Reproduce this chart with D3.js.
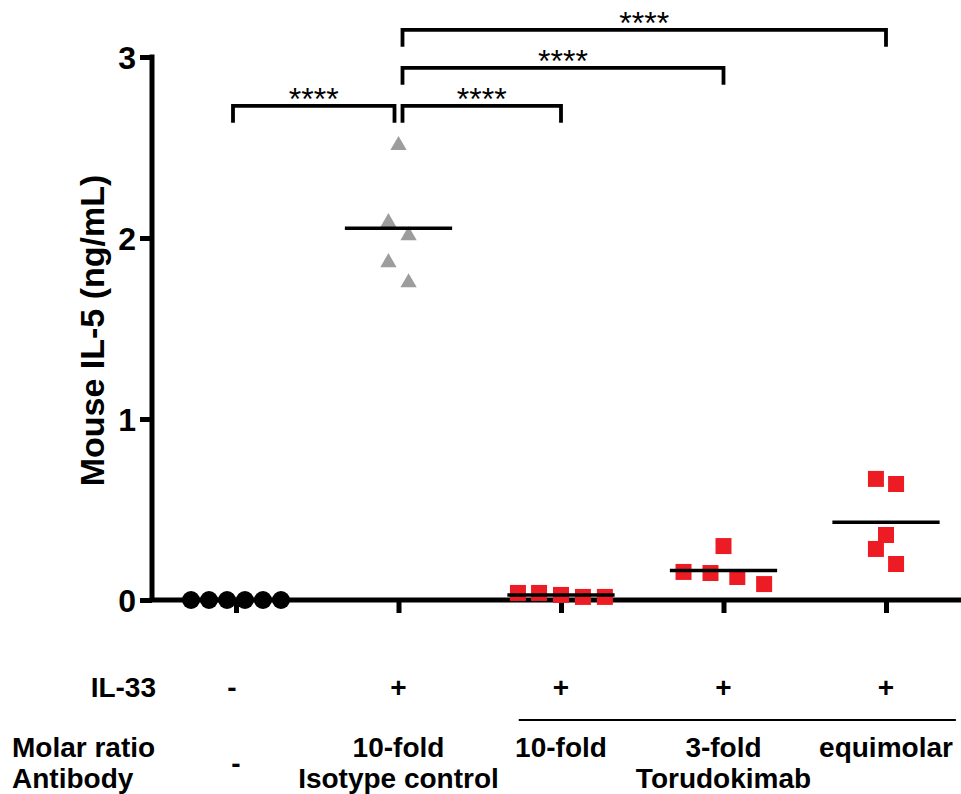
<!DOCTYPE html>
<html><head><meta charset="utf-8">
<script src="https://cdn.jsdelivr.net/npm/d3@7/dist/d3.min.js"></script>
<style>
html,body{margin:0;padding:0;background:#fff;}
svg{display:block;}
text{font-family:"Liberation Sans",Arial,sans-serif;font-weight:bold;fill:#000;}
</style></head>
<body>
<svg id="chart" width="961" height="794"></svg>
<script>
// ---- data ----
const groups = ["none", "isotype", "toru10", "toru3", "toru1"];
const yTicks = [0, 1, 2, 3];
const yLabel = "Mouse IL-5 (ng/mL)";

const noneValues    = [0, 0, 0, 0, 0, 0];
const isotypeValues = [2.52, 2.094, 2.022, 1.873, 1.762];
const toru10Values  = [0.039, 0.039, 0.028, 0.017, 0.017];
const toru3Values   = [0.155, 0.149, 0.298, 0.127, 0.088];
const toru1Values   = [0.669, 0.641, 0.359, 0.282, 0.199];

// horizontal scatter of points within a group, as a fraction of the group spacing
const noneJitter    = [-0.277, -0.166, -0.055, 0.055, 0.166, 0.277];
const isotypeJitter = [0, -0.062, 0.062, -0.062, 0.062];
const toru10Jitter  = [-0.265, -0.135, 0, 0.135, 0.27];
const toru3Jitter   = [-0.246, -0.08, 0, 0.085, 0.25];
const toru1Jitter   = [-0.062, 0.062, 0, -0.062, 0.062];

const il33Row      = ["-", "+", "+", "+", "+"];
const molarRow     = ["", "10-fold", "10-fold", "3-fold", "equimolar"];
const antibodyRow  = ["-", "Isotype control", "", "Torudokimab", ""];
const rowTitles    = ["IL-33", "Molar ratio", "Antibody"];

// significance brackets: [from group, to group, height in ng/mL, label]
const compFrom   = [0, 1, 1, 1];
const compTo     = [1, 2, 3, 4];
const compLevel  = [2.73, 2.73, 2.94, 3.15];
const compLabel  = ["****", "****", "****", "****"];

// ---- layout ----
const svg = d3.select("#chart");
const x = d3.scalePoint().domain(groups).range([236, 886]);
const y = d3.scaleLinear().domain([0, 3]).range([600, 57]);
const step = x.step();

const series = [
  {g: "none",    vals: noneValues,    jit: noneJitter,    shape: "circle",   color: "#000000"},
  {g: "isotype", vals: isotypeValues, jit: isotypeJitter, shape: "triangle", color: "#9d9d9d"},
  {g: "toru10",  vals: toru10Values,  jit: toru10Jitter,  shape: "square",   color: "#ed1c24"},
  {g: "toru3",   vals: toru3Values,   jit: toru3Jitter,   shape: "square",   color: "#ed1c24"},
  {g: "toru1",   vals: toru1Values,   jit: toru1Jitter,   shape: "square",   color: "#ed1c24"}
];
const symType = {circle: d3.symbolCircle, triangle: d3.symbolTriangle, square: d3.symbolSquare};
const symSize = {circle: 255, triangle: 115, square: 256};

// y axis
const yAxis = svg.append("g").attr("transform", "translate(152,0)")
  .call(d3.axisLeft(y).tickValues(yTicks).tickFormat(d3.format("d")).tickSize(12).tickSizeOuter(0).tickPadding(4));
yAxis.select(".domain").attr("stroke", "#000").attr("stroke-width", 5)
  .attr("d", `M0,${y(3) - 2.5}V${y(0)}`);
yAxis.selectAll(".tick line").attr("stroke", "#000").attr("stroke-width", 5);
yAxis.selectAll(".tick text").style("font-size", "32px").attr("dy", "0.36em");

// x axis
const xAxis = svg.append("g").attr("transform", `translate(0,${y(0)})`)
  .call(d3.axisBottom(x).tickSize(13).tickSizeOuter(0).tickFormat(""));
xAxis.select(".domain").attr("stroke", "#000").attr("stroke-width", 5)
  .attr("d", "M149.5,0H961");
xAxis.selectAll(".tick line").attr("stroke", "#000").attr("stroke-width", 5);

// y label
svg.append("text")
  .attr("transform", `translate(104,${(y(0) + y(3)) / 2 + 2}) rotate(-90)`)
  .attr("text-anchor", "middle")
  .style("font-size", "34px")
  .text(yLabel);

// points
series.forEach(s => {
  const sym = d3.symbol().type(symType[s.shape]).size(symSize[s.shape]);
  svg.append("g").selectAll("path").data(s.vals).join("path")
    .attr("d", sym)
    .attr("transform", (v, i) => {
      const dy = s.shape === "triangle" ? 1.5 : 0;
      return `translate(${x(s.g) + s.jit[i] * step},${y(v) + dy})`;
    })
    .attr("fill", s.color);
  // mean line
  const m = d3.mean(s.vals);
  svg.append("line")
    .attr("x1", x(s.g) - 0.33 * step).attr("x2", x(s.g) + 0.33 * step)
    .attr("y1", y(m)).attr("y2", y(m))
    .attr("stroke", "#000").attr("stroke-width", 3.5);
});

// significance brackets
const legLen = 17, gap = 4;
compFrom.forEach((f, i) => {
  const t = compTo[i];
  const yy = y(compLevel[i]);
  const xa = x(groups[f]) + (f === 1 ? gap : -3);
  const xb = x(groups[t]) - (t === 1 ? gap : 0);
  svg.append("path")
    .attr("d", `M${xa},${yy + legLen}V${yy}H${xb}V${yy + legLen}`)
    .attr("fill", "none").attr("stroke", "#000").attr("stroke-width", 3.8);
  svg.append("text")
    .attr("x", (xa + xb) / 2).attr("y", yy + 4)
    .attr("text-anchor", "middle")
    .style("font-size", "32px").style("font-weight", "normal")
    .text(compLabel[i]);
});

// condition table below the axis
const fs = "28px";
const rowY = [697, 757, 788];
svg.append("text").attr("x", 156).attr("y", rowY[0]).attr("text-anchor", "end")
  .style("font-size", fs).text(rowTitles[0]);
svg.append("text").attr("x", 12).attr("y", rowY[1]).attr("text-anchor", "start")
  .style("font-size", fs).text(rowTitles[1]);
svg.append("text").attr("x", 12).attr("y", rowY[2]).attr("text-anchor", "start")
  .style("font-size", fs).text(rowTitles[2]);

svg.append("g").selectAll("text").data(il33Row).join("text")
  .attr("x", (d, i) => x(groups[i]) - (i === 0 ? 4 : 0)).attr("y", rowY[0])
  .attr("text-anchor", "middle").style("font-size", fs).text(d => d);

svg.append("g").selectAll("text").data(molarRow).join("text")
  .attr("x", (d, i) => x(groups[i])).attr("y", rowY[1])
  .attr("text-anchor", "middle").style("font-size", fs).text(d => d);

// antibody row: "-" sits between the two rows; Torudokimab spans groups 2-4
svg.append("g").selectAll("text").data(antibodyRow).join("text")
  .attr("x", (d, i) => x(groups[i]))
  .attr("y", (d, i) => i === 0 ? (rowY[1] + rowY[2]) / 2 : rowY[2])
  .attr("text-anchor", "middle").style("font-size", fs).text(d => d);

// line grouping the Torudokimab conditions
svg.append("line")
  .attr("x1", x("toru10") - 0.26 * step).attr("x2", x("toru1") + 0.43 * step)
  .attr("y1", 720).attr("y2", 720)
  .attr("stroke", "#000").attr("stroke-width", 2);
</script>
</body></html>
